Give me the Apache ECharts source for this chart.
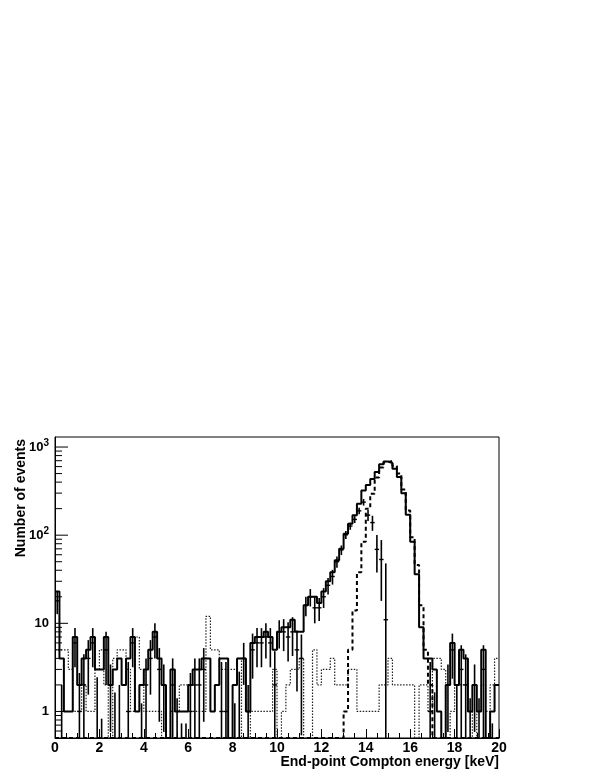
<!DOCTYPE html>
<html>
<head>
<meta charset="utf-8">
<script src="https://cdn.jsdelivr.net/npm/echarts@6/dist/echarts.min.js"></script>
<style>
html,body{margin:0;padding:0;background:#fff;}
#chart{width:599px;height:776px;}
</style>
</head>
<body>
<div id="chart"></div>
<script>
// ---- histogram definition ----
const binWidth = 0.2;          // keV
const xMin = 0, xMax = 20;     // keV
const yMin = 0.5, yMax = 1300; // log axis range

// Data (solid, with error bars), 100 bins of 0.2 keV
const dataCounts = [
  23,4,1,1,7,2,4,5,7,3,
  3,7,2,3,4,2,4,7,1,2,
  3,5,8,4,2,0,3,1,1,1,
  2,3,3,4,4,1,2,4,4,0,
  2,4,4,1,6,7,7,8,7,5,
  8,9,9,11,8,8,16,20,20,17,
  23,30,38,52,70,104,135,168,228,322,
  370,435,520,640,685,660,566,456,300,170,
  84,36,9,4,4,3,1,0,2,6,
  2,5,4,1,2,1,5,0,1,2
];
// Dashed component
const signalMC = [
  0,0,0,0,0,0,0,0,0,0,
  0,0,0,0,0,0,0,0,0,0,
  0,0,0,0,0,0,0,0,0,0,
  0,0,0,0,0,0,0,0,0,0,
  0,0,0,0,0,0,0,0,0,0,
  0,0,0,0,0,0,0,0,0,0,
  0,0,0,0,0,1,5,14,38,84,
  200,295,450,585,672,700,610,500,330,190,
  95,46,16,5,2,0,0,0,0,0,
  0,0,0,0,0,0,0,0,0,0
];
// Dotted component
const backgroundMC = [
  5,5,5,3,1,1,2,1,1,3,
  5,2,0,4,5,5,3,1,7,3,
  1,1,1,1,0,0,1,1,2,2,
  1,1,1,1,12,5,5,3,3,3,
  3,4,0,0,1,1,1,1,1,3,
  0,1,2,3,3,4,0,0,5,2,
  3,3,4,2,2,2,3,3,1,1,
  1,1,1,2,2,4,2,2,2,2,
  2,0,2,2,1,4,4,3,0,1,
  2,2,2,1,0,1,2,1,2,4
];
const xTickInterval = 2;
const yMajorTicks = [1, 10, 100, 1000];
const yMinorTicks = [0.6,0.7,0.8,0.9,2,3,4,5,6,7,8,9,20,30,40,50,60,70,80,90,200,300,400,500,600,700,800,900];

const FONT = '"Liberation Sans", Arial, Helvetica, sans-serif';

function stepData(arr) {
  const pts = arr.map((v, i) => [xMin + i * binWidth, v > 0 ? v : yMin]);
  const last = arr[arr.length - 1];
  pts.push([xMax, last > 0 ? last : yMin]);
  return pts;
}

// residual points: data minus both components, with combined error
const residualPts = dataCounts.map((d, i) => {
  const r = d - signalMC[i] - backgroundMC[i];
  const e = Math.sqrt(d + signalMC[i] + backgroundMC[i]);
  return [xMin + (i + 0.5) * binWidth, r, e];
});

const chart = echarts.init(document.getElementById('chart'), null, {renderer: 'canvas'});

const option = {
  animation: false,
  backgroundColor: '#fff',
  grid: {left: 55, right: 100, top: 437, bottom: 38, show: true, borderColor: '#000', borderWidth: 1, backgroundColor: 'transparent'},
  xAxis: {
    type: 'value', min: xMin, max: xMax, interval: xTickInterval,
    axisLine: {show: true, onZero: false, lineStyle: {color: '#000', width: 1}},
    axisTick: {show: true, inside: true, length: 9, lineStyle: {color: '#000', width: 1}},
    minorTick: {show: true, splitNumber: 4, length: 5, lineStyle: {color: '#000', width: 1}},
    splitLine: {show: false},
    axisLabel: {color: '#000', fontFamily: FONT, fontWeight: 'bold', fontSize: 14, margin: 3}
  },
  yAxis: {
    type: 'log', logBase: 10, min: yMin, max: yMax,
    axisLine: {show: true, lineStyle: {color: '#000', width: 1}},
    axisTick: {show: false},
    splitLine: {show: false},
    axisLabel: {
      color: '#000', fontFamily: FONT, fontWeight: 'bold', fontSize: 13, margin: 6,
      formatter: function (v) {
        const l = Math.log10(v);
        if (Math.abs(l - Math.round(l)) > 1e-6) return '';
        const e = Math.round(l);
        if (e === 0) return '1';
        if (e === 1) return '10';
        return '10{sup|' + e + '}';
      },
      rich: {sup: {fontSize: 10, fontWeight: 'bold', fontFamily: FONT, color: '#000', verticalAlign: 'bottom', padding: [0, 0, 8, 0]}}
    }
  },
  graphic: [
    {type: 'text', x: 499, y: 762, z: 100,
     style: {text: 'End-point Compton energy [keV]', font: 'bold 14px ' + FONT, fill: '#000', align: 'right', verticalAlign: 'middle', textAlign: 'right', textVerticalAlign: 'middle'}},
    {type: 'text', x: 21, y: 439, rotation: Math.PI / 2, z: 100,
     style: {text: 'Number of events', font: 'bold 14px ' + FONT, fill: '#000', align: 'right', verticalAlign: 'middle', textAlign: 'right', textVerticalAlign: 'middle'}}
  ],
  series: [
    {
      name: 'background', type: 'line', step: 'end', symbol: 'none', z: 2,
      data: stepData(backgroundMC),
      lineStyle: {color: '#222', width: 1.2, type: [1.5, 1.5]}
    },
    {
      name: 'signal', type: 'line', step: 'end', symbol: 'none', z: 3,
      data: stepData(signalMC),
      lineStyle: {color: '#000', width: 2, type: [4, 3]}
    },
    {
      name: 'data', type: 'line', step: 'end', symbol: 'none', z: 4,
      data: stepData(dataCounts),
      lineStyle: {color: '#000', width: 2}
    },
    {
      name: 'residual', type: 'custom', z: 5, clip: true,
      data: residualPts,
      renderItem: function (params, api) {
        const x = api.value(0), v = api.value(1), e = api.value(2);
        const hi = v + e;
        if (!(hi > yMin)) return null;
        const lo = Math.max(v - e, yMin);
        const top = api.coord([x, Math.min(hi, yMax)]);
        const bot = api.coord([x, lo]);
        const children = [{
          type: 'line', shape: {x1: top[0], y1: top[1], x2: bot[0], y2: bot[1]},
          style: {stroke: '#000', lineWidth: 1.6}
        }];
        if (v > yMin) {
          const l = api.coord([x - binWidth / 2, v]);
          const r = api.coord([x + binWidth / 2, v]);
          children.push({type: 'line', shape: {x1: l[0], y1: l[1], x2: r[0], y2: r[1]}, style: {stroke: '#000', lineWidth: 1.4}});
        }
        return {type: 'group', children: children};
      }
    },
    {
      name: 'yticks', type: 'custom', z: 6, silent: true,
      data: yMajorTicks.map(v => [v, 13]).concat(yMinorTicks.map(v => [v, 7])),
      renderItem: function (params, api) {
        const p = api.coord([xMin, api.value(0)]);
        const len = api.value(1);
        return {type: 'line', shape: {x1: p[0], y1: p[1], x2: p[0] + len, y2: p[1]}, style: {stroke: '#000', lineWidth: 1}};
      },
      encode: {x: -1, y: 0}
    }
  ]
};
chart.setOption(option);
</script>
</body>
</html>
